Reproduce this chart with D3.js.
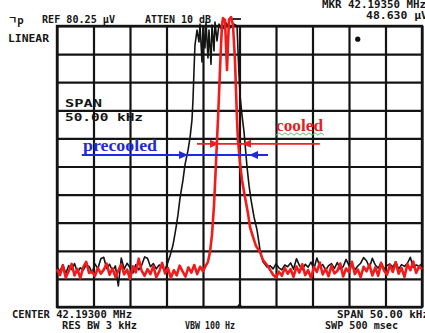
<!DOCTYPE html>
<html><head><meta charset="utf-8">
<script src="https://cdn.jsdelivr.net/npm/d3@7"></script>
<style>
body{margin:0;background:#fff}
text.scr{font-family:"DejaVu Sans Mono",monospace;font-weight:bold;font-size:10px;fill:#161616}
text.note{font-family:"Liberation Serif","Times New Roman",serif;font-weight:bold;font-size:16px}
</style>
</head><body>
<svg id="chart" width="425" height="333"></svg>
<script>
// Spectrum analyser screen: 50 kHz span around 42.19300 MHz, linear scale.
const spanKHz = [-25, 25];          // offset from centre frequency
const refLevel = 80.25;             // µV at the top graticule line
const divisions = 10;
const sweepStep = 0.4;              // kHz between noise-floor samples

// cooled trace (red): floor below the line, peak, floor above the line
const cooledFloorLo = [10.8, 9.1, 11.9, 8.4, 10.2, 12.3, 9.0, 10.9, 8.2, 11.4,
  12.9, 9.7, 10.1, 8.8, 11.2, 9.5, 10.6, 12.4, 9.2, 11.0,
  8.6, 10.4, 12.1, 9.3, 10.7, 8.0, 11.6, 9.9, 13.8, 10.3,
  8.9, 10.8, 9.4, 11.7, 8.5, 10.1, 12.6, 9.6, 11.1, 8.3,
  10.5, 9.0, 11.8, 10.2, 8.7, 11.3, 9.8, 12.0, 9.4, 11.5,
  10.2, 11.9];
const cooledPeak = [[-4.32,12.9],[-4.04,15.7],[-3.77,20.6],[-3.49,29.1],[-3.36,34.8],[-3.22,41.1],
  [-3.08,47.7],[-2.95,53.4],[-2.81,60.5],[-2.67,67.7],[-2.53,74.8],[-2.40,80.5],[-2.26,82.5],
  [-1.99,82.0],[-1.85,74.8],[-1.71,67.7],[-1.58,74.8],[-1.44,82.0],[-1.16,82.8],[-0.89,80.5],
  [-0.62,70.5],[-0.48,62.0],[-0.34,53.4],[-0.21,47.7],[0.07,41.1],[0.34,36.3],[0.75,31.4],
  [1.16,26.8],[1.44,22.8],[1.85,20.0],[2.26,17.4],[2.81,15.7],[3.22,13.4],[3.77,12.0]];
const cooledFloorHiStart = 4.2;
const cooledFloorHi = [10.6, 9.2, 8.4, 10.1, 8.9, 11.2, 9.5, 10.8, 8.6, 11.6,
  9.8, 12.2, 9.1, 10.5, 8.3, 11.4, 10.0, 12.7, 9.3, 10.9,
  8.8, 11.8, 9.6, 10.3, 12.4, 8.7, 11.0, 9.9, 12.9, 9.4,
  10.7, 8.5, 11.5, 10.2, 12.1, 9.0, 11.3, 8.9, 12.6, 10.4,
  9.2, 11.9, 10.0, 12.8, 9.5, 11.1, 8.6, 12.3, 10.5, 13.0,
  9.7, 11.6, 10.8];

// precooled trace (black)
const precooledFloorLo = [11.4, 10.2, 12.1, 9.6, 11.8, 10.7, 12.4, 9.9, 11.2, 10.5,
  12.0, 11.6, 9.8, 12.3, 10.9, 13.8, 14.2, 11.0, 12.2, 10.4,
  11.7, 6.0, 14.0, 10.8, 12.5, 11.3, 9.7, 12.1, 10.6, 11.9,
  14.3, 13.9, 11.5, 12.4, 10.9, 12.0, 11.4];
const precooledPeak = [[-10.2,10.6],[-9.79,12.9],[-9.52,14.6],[-9.11,17.7],[-8.70,22.6],[-8.43,26.3],
  [-8.15,31.1],[-7.74,36.3],[-7.47,40.6],[-7.05,44.8],[-6.78,48.3],[-6.51,53.4],[-6.37,59.1],
  [-6.23,67.7],[-6.10,74.8],[-5.82,79.1],[-5.55,75.7],[-5.41,80.8],[-5.14,70.0],[-5.00,79.7],
  [-4.73,74.0],[-4.59,81.4],[-4.32,71.1],[-4.18,79.1],[-3.90,69.3],[-3.77,80.5],[-3.49,73.1],
  [-3.36,81.4],[-3.08,76.0],[-2.81,80.8],[-2.40,79.1],[-1.85,81.1],[-1.30,79.7],[-0.75,80.8],
  [-0.34,80.3],[-0.21,73.4],[-0.07,66.3],[0.07,60.5],[0.34,54.8],[0.62,50.0],[1.03,40.0],
  [1.30,34.8],[1.58,30.6],[1.99,25.7],[2.40,22.0],[2.81,16.3],[3.22,12.9],[3.77,11.4]];
const precooledFloorHiStart = 4.2;
const precooledFloorHi = [11.8, 10.9, 12.3, 11.2, 10.6, 12.0, 11.5, 12.6, 10.8, 13.8,
  11.9, 10.7, 12.2, 11.4, 12.8, 10.9, 14.0, 11.6, 12.1, 10.5,
  11.8, 12.4, 11.0, 12.7, 10.8, 11.5, 13.6, 11.9, 12.2, 10.6,
  11.7, 12.5, 14.1, 13.2, 11.3, 13.9, 12.0, 11.1, 12.6, 10.9,
  11.8, 12.3, 11.4, 12.9, 10.8, 12.1, 11.6, 12.5, 14.2, 11.3,
  12.0, 11.7, 12.4];

// linewidth markers (kHz span at a given level, with inward arrow tips)
const precooledWidth = {level: 43.4, from: -21.6, to: 3.9, tips: [-7.05, 1.30]};
const cooledWidth = {level: 46.6, from: -5.82, to: 11.0, tips: [-2.81, 0.34]};

// screen annotations
const headerLines = [
  {t: "REF 80.25 µV", x: 42, y: 23, w: 73},
  {t: "ATTEN 10 dB", x: 145, y: 23, w: 66},
  {t: "MKR 42.19350 MHz", x: 322, y: 8, w: 104},
  {t: "48.630 µV", x: 366, y: 19, w: 62},
  {t: "LINEAR", x: 8, y: 42, w: 41},
  {t: "SPAN", x: 65, y: 107, w: 37},
  {t: "50.00 kHz", x: 65, y: 121, w: 78},
  {t: "CENTER 42.19300 MHz", x: 12, y: 318, w: 120},
  {t: "RES BW 3 kHz", x: 62, y: 329, w: 75},
  {t: "VBW 100 Hz", x: 185, y: 329, w: 50},
  {t: "SPAN 50.00 kHz", x: 337, y: 318, w: 92},
  {t: "SWP 500 msec", x: 325, y: 329, w: 73}
];
const markerDot = [16.2, 76.5];

const svg = d3.select("#chart");
const L = 57, R = 422, T = 26, B = 307;
const x = d3.scaleLinear().domain(spanKHz).range([L, R]);
const y = d3.scaleLinear().domain([0, refLevel]).range([B, T]);

// graticule
const xDiv = d3.range(divisions + 1).map(i => spanKHz[0] + i * (spanKHz[1] - spanKHz[0]) / divisions);
const yDiv = d3.range(divisions + 1).map(i => i * refLevel / divisions);
const gx = svg.append("g").attr("transform", `translate(0,${B})`)
  .call(d3.axisBottom(x).tickValues(xDiv).tickSize(-(B - T)).tickFormat(""));
const gy = svg.append("g").attr("transform", `translate(${L},0)`)
  .call(d3.axisLeft(y).tickValues(yDiv).tickSize(-(R - L)).tickFormat(""));
[gx, gy].forEach(g => {
  g.select(".domain").remove();
  g.selectAll(".tick line").attr("stroke", "#141414").attr("stroke-width", 2.2);
});
svg.append("rect").attr("x", L).attr("y", T).attr("width", R - L).attr("height", B - T)
  .attr("fill", "none").attr("stroke", "#141414").attr("stroke-width", 2.4);
// centre-frequency tick on the bottom edge
svg.append("path").attr("d", `M${x(0) - 3},${B} L${x(0)},${B - 4} L${x(0) + 3},${B} Z`).attr("fill", "#141414");

// header text
svg.selectAll("text.scr").data(headerLines).join("text").attr("class", "scr")
  .attr("x", d => d.x).attr("y", d => d.y).attr("textLength", d => d.w)
  .attr("lengthAdjust", "spacingAndGlyphs").text(d => d.t);
svg.append("text").attr("x", 8).attr("y", 24)
  .style("font-family", "'Noto Sans CJK KR',sans-serif").style("font-weight", "bold")
  .style("font-size", "10px").attr("fill", "#161616").text("ㄱp");
// reference-level indicator
svg.append("line").attr("x1", x(-1.1)).attr("x2", x(0.2)).attr("y1", T - 7).attr("y2", T - 7)
  .attr("stroke", "#161616").attr("stroke-width", 1.8);
svg.append("circle").attr("cx", x(markerDot[0])).attr("cy", y(markerDot[1])).attr("r", 2.6).attr("fill", "#111");

function buildTrace(lo, peak, hiStart, hi) {
  return lo.map((v, i) => [spanKHz[0] + i * sweepStep, v])
    .concat(peak)
    .concat(hi.map((v, i) => [hiStart + i * sweepStep, v]));
}
const line = d3.line().x(d => x(d[0])).y(d => y(d[1]));

const precooled = buildTrace(precooledFloorLo, precooledPeak, precooledFloorHiStart, precooledFloorHi);
const cooled = buildTrace(cooledFloorLo, cooledPeak, cooledFloorHiStart, cooledFloorHi);

svg.append("path").datum(precooled).attr("d", line).attr("fill", "none")
  .attr("stroke", "#141414").attr("stroke-width", 1.6).attr("stroke-linejoin", "round");
svg.append("path").datum(cooled).attr("d", line).attr("fill", "none")
  .attr("stroke", "#f21a1a").attr("stroke-width", 2.6).attr("stroke-linejoin", "round");

// width markers with inward arrows
function widthMarker(m, color, sw) {
  const g = svg.append("g");
  const yy = y(m.level);
  g.append("line").attr("x1", x(m.from)).attr("x2", x(m.to)).attr("y1", yy).attr("y2", yy)
    .attr("stroke", color).attr("stroke-width", sw);
  const [a, b] = m.tips.map(x);
  g.append("path").attr("d", `M${a},${yy} L${a - 9},${yy - 4} L${a - 9},${yy + 4} Z`).attr("fill", color);
  g.append("path").attr("d", `M${b},${yy} L${b + 9},${yy - 4} L${b + 9},${yy + 4} Z`).attr("fill", color);
}
widthMarker(precooledWidth, "#1f2bd6", 2);
widthMarker(cooledWidth, "#ee2020", 1.6);

svg.append("text").attr("class", "note").attr("x", 83).attr("y", 151).attr("fill", "#1f2bd6")
  .attr("textLength", 74).attr("lengthAdjust", "spacingAndGlyphs").text("precooled");
svg.append("text").attr("class", "note").attr("x", 276).attr("y", 131).attr("fill", "#e21f1f")
  .attr("textLength", 47).attr("lengthAdjust", "spacingAndGlyphs").text("cooled");
// wavy underline beneath "cooled"
const wave = d3.range(0, 17).map(i => [276 + i * 3, 134 + (i % 2 ? -1.2 : 1.2)]);
svg.append("path").attr("d", d3.line()(wave)).attr("fill", "none")
  .attr("stroke", "#6cb86c").attr("stroke-width", 1);
</script>
</body></html>
